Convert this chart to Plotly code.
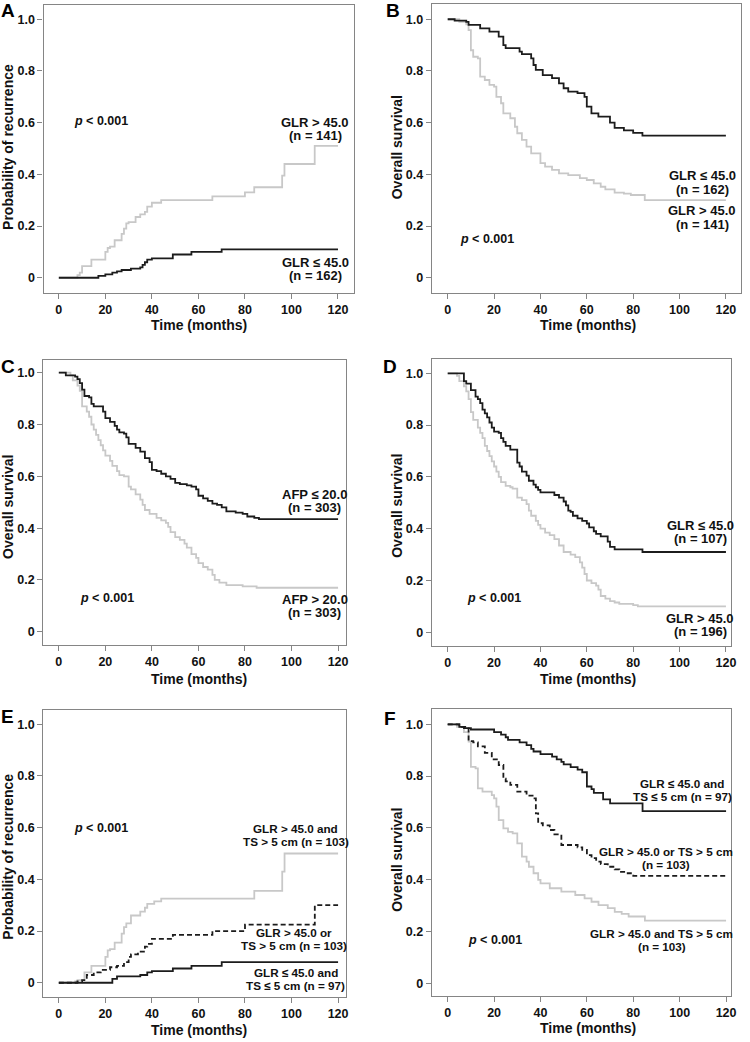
import plotly.graph_objects as go

# step curves: time (months) and probability
# A - recurrence by GLR
a_high_t = [0, 8, 9, 10, 14, 20, 21, 22, 24, 27, 28, 29, 30, 33, 35, 37, 38, 40, 44, 66, 80, 84, 96, 97, 110, 120]
a_high_v = [0, 0.01, 0.02, 0.045, 0.07, 0.1, 0.115, 0.12, 0.145, 0.17, 0.19, 0.21, 0.215, 0.235, 0.245, 0.255,
            0.275, 0.29, 0.3, 0.315, 0.33, 0.35, 0.395, 0.44, 0.51, 0.51]
a_low_t = [0, 17, 20, 23, 25, 27, 31, 35, 36, 37, 38, 40, 49, 57, 70, 120]
a_low_v = [0, 0.007, 0.013, 0.02, 0.025, 0.03, 0.035, 0.04, 0.05, 0.06, 0.07, 0.075, 0.09, 0.1, 0.11, 0.11]

# B - overall survival by GLR
b_low_t = [0, 3, 8, 9, 14, 18, 22, 24, 25, 31, 32, 36, 37, 38, 41, 45, 48, 50, 52, 56,
           59, 60, 62, 65, 70, 72, 76, 80, 84, 120]
b_low_v = [1.0, 0.995, 0.99, 0.978, 0.965, 0.952, 0.933, 0.9, 0.888, 0.875, 0.865, 0.849, 0.823, 0.804, 0.784,
           0.772, 0.752, 0.733, 0.72, 0.714, 0.7, 0.662, 0.636, 0.623, 0.6, 0.58, 0.57, 0.56, 0.55, 0.55]
b_high_t = [0, 5, 8, 9, 10, 11, 13, 14, 16, 18, 20, 21, 23, 24, 27, 29, 30, 32, 34, 36,
            40, 42, 45, 48, 52, 57, 60, 63, 66, 68, 72, 76, 79, 85, 120]
b_high_v = [1.0, 0.99, 0.98, 0.958, 0.88, 0.855, 0.849, 0.778, 0.765, 0.746, 0.739, 0.7, 0.675, 0.636, 0.617,
            0.584, 0.559, 0.533, 0.507, 0.481, 0.443, 0.43, 0.417, 0.404, 0.397, 0.385, 0.378, 0.365, 0.352,
            0.342, 0.329, 0.325, 0.32, 0.30, 0.30]

# C - overall survival by AFP
c_low_t = [0, 3, 7, 8, 9, 10, 11, 13, 14, 15, 19, 20, 22, 24, 25, 26, 28, 29, 30, 33, 35, 37, 39, 40, 42,
           44, 46, 48, 50, 52, 55, 57, 59, 60, 62, 64, 66, 68, 70, 72, 76, 79, 81, 84, 86, 120]
c_low_v = [1.0, 0.99, 0.985, 0.975, 0.96, 0.935, 0.91, 0.905, 0.88, 0.87, 0.85, 0.825, 0.81, 0.795, 0.78,
           0.77, 0.765, 0.75, 0.725, 0.71, 0.695, 0.67, 0.655, 0.625, 0.62, 0.61, 0.6, 0.59, 0.575, 0.57,
           0.565, 0.56, 0.55, 0.525, 0.515, 0.505, 0.495, 0.49, 0.48, 0.465, 0.46, 0.455, 0.445, 0.44,
           0.435, 0.435]
c_high_t = [0, 5, 6, 8, 9, 10, 12, 13, 14, 15, 16, 17, 18, 19, 20, 22, 23, 25, 26, 28, 30, 31, 33, 35,
            36, 37, 39, 42, 44, 46, 47, 48, 50, 52, 54, 55, 57, 59, 60, 62, 64, 66, 67, 69, 72, 79, 85, 120]
c_high_v = [1.0, 0.99, 0.97, 0.95, 0.93, 0.87, 0.85, 0.83, 0.8, 0.78, 0.76, 0.74, 0.72, 0.7, 0.68, 0.66,
            0.64, 0.62, 0.605, 0.6, 0.56, 0.55, 0.53, 0.51, 0.49, 0.47, 0.455, 0.44, 0.43, 0.42, 0.405,
            0.385, 0.365, 0.355, 0.34, 0.325, 0.3, 0.285, 0.265, 0.25, 0.24, 0.22, 0.2, 0.19, 0.18,
            0.175, 0.17, 0.17]

# D - overall survival by GLR (AFP > 20 subgroup)
d_low_t = [0, 7, 8, 10, 12, 13, 14, 15, 16, 17, 18, 19, 20, 22, 23, 24, 25, 27, 30, 31, 32, 34, 35,
           37, 38, 39, 40, 46, 48, 50, 51, 52, 53, 54, 56, 58, 60, 61, 63, 64, 66, 69, 70, 72, 84, 120]
d_low_v = [1.0, 0.97, 0.96, 0.935, 0.91, 0.9, 0.885, 0.86, 0.845, 0.83, 0.81, 0.79, 0.775, 0.77, 0.75,
           0.735, 0.72, 0.705, 0.655, 0.64, 0.62, 0.605, 0.585, 0.57, 0.56, 0.55, 0.54, 0.53, 0.52,
           0.505, 0.49, 0.47, 0.465, 0.45, 0.44, 0.43, 0.42, 0.405, 0.39, 0.38, 0.37, 0.35, 0.33,
           0.32, 0.31, 0.31]
d_high_t = [0, 4, 5, 7, 8, 9, 10, 11, 13, 14, 15, 16, 17, 18, 19, 20, 21, 22, 23, 25, 27, 28, 30, 32,
            34, 35, 36, 38, 39, 40, 42, 44, 46, 48, 50, 53, 55, 57, 58, 59, 60, 62, 64, 65, 66, 68, 70,
            72, 74, 80, 82, 120]
d_high_v = [1.0, 0.99, 0.97, 0.95, 0.93, 0.9, 0.85, 0.82, 0.79, 0.77, 0.75, 0.72, 0.7, 0.68, 0.66,
            0.64, 0.62, 0.6, 0.58, 0.565, 0.56, 0.555, 0.52, 0.51, 0.495, 0.47, 0.45, 0.43, 0.415, 0.4,
            0.385, 0.375, 0.36, 0.335, 0.31, 0.3, 0.29, 0.27, 0.25, 0.225, 0.2, 0.19, 0.18, 0.165,
            0.14, 0.13, 0.12, 0.115, 0.11, 0.105, 0.1, 0.1]

# E - recurrence by GLR + tumour size
e_high_t = [0, 7, 8, 11, 14, 20, 21, 22, 24, 27, 28, 29, 31, 35, 37, 38, 41, 44, 84, 96, 97, 120]
e_high_v = [0, 0.005, 0.01, 0.04, 0.065, 0.1, 0.125, 0.13, 0.155, 0.19, 0.215, 0.23, 0.26, 0.275,
            0.29, 0.305, 0.315, 0.325, 0.355, 0.43, 0.5, 0.5]
e_mid_t = [0, 8, 10, 12, 15, 18, 22, 25, 28, 30, 31, 34, 37, 38, 40, 49, 66, 80, 110, 120]
e_mid_v = [0, 0.005, 0.01, 0.03, 0.04, 0.05, 0.06, 0.065, 0.08, 0.1, 0.11, 0.12, 0.14, 0.15, 0.17,
           0.185, 0.2, 0.225, 0.3, 0.3]
e_low_t = [0, 23, 25, 35, 38, 40, 49, 57, 70, 120]
e_low_v = [0, 0.015, 0.025, 0.03, 0.04, 0.045, 0.055, 0.065, 0.08, 0.08]

# F - overall survival by GLR + tumour size
f_low_t = [0, 5, 7, 10, 20, 23, 25, 26, 31, 34, 36, 37, 40, 45, 47, 49, 50, 53, 56, 58,
           60, 62, 63, 67, 70, 84, 120]
f_low_v = [1.0, 0.99, 0.985, 0.98, 0.97, 0.96, 0.95, 0.94, 0.93, 0.92, 0.905, 0.895, 0.885, 0.875,
           0.865, 0.855, 0.845, 0.835, 0.825, 0.815, 0.76, 0.75, 0.735, 0.71, 0.695, 0.665, 0.665]
f_mid_t = [0, 5, 9, 11, 13, 16, 19, 22, 24, 25, 27, 30, 34, 37, 38, 39, 41, 44, 46, 49,
           56, 58, 60, 62, 64, 66, 69, 72, 74, 77, 80, 120]
f_mid_v = [1.0, 0.99, 0.935, 0.93, 0.915, 0.89, 0.865, 0.843, 0.79, 0.78, 0.766, 0.74, 0.725, 0.714,
           0.656, 0.618, 0.61, 0.592, 0.575, 0.534, 0.525, 0.515, 0.495, 0.483, 0.47, 0.46, 0.45,
           0.44, 0.43, 0.425, 0.415, 0.415]
f_high_t = [0, 4, 7, 9, 10, 12, 13, 15, 19, 20, 21, 22, 24, 26, 28, 30, 32, 34, 35, 37,
            39, 40, 44, 49, 55, 59, 62, 65, 69, 72, 75, 78, 85, 120]
f_high_v = [1.0, 0.99, 0.97, 0.933, 0.836, 0.83, 0.753, 0.74, 0.727, 0.714, 0.682, 0.63, 0.598, 0.585,
            0.579, 0.54, 0.489, 0.47, 0.45, 0.425, 0.399, 0.386, 0.367, 0.354, 0.341, 0.328, 0.315,
            0.302, 0.29, 0.276, 0.268, 0.258, 0.242, 0.242]

x_ticks = [0, 20, 40, 60, 80, 100, 120]
y_ticks = [0, 0.2, 0.4, 0.6, 0.8, 1.0]
y_ticktext = ["0", "0.2", "0.4", "0.6", "0.8", "1.0"]

W, H = 750, 1042
BLACK = "#1c1c1c"
GREY = "#c8c8c8"
FRAME = "#858585"
FONT = "Liberation Sans, Arial, sans-serif"


def px(x):
    return x / W


def py(y):
    return 1 - y / H


# box = (left, right, top, bottom) in pixels; lsize = font size of the curve labels
panels = [
    dict(letter="A", lpos=(8, 11), box=(44, 357, 5, 293), xr=[-6.52, 126.95], yr=[-0.059, 1.055],
         ytitle="Probability of recurrence", ytpos=(8, 147), xtpos=(201, 325), ppos=(73, 121), lsize=13,
         curves=[(a_high_t, a_high_v, GREY, "solid"), (a_low_t, a_low_v, BLACK, "solid")],
         labels=[(["GLR > 45.0", "(n = 141)"], 318, 129), (["GLR ≤ 45.0", "(n = 162)"], 318, 269)]),
    dict(letter="B", lpos=(396, 11), box=(435.3, 746.7, 4, 292.7), xr=[-6.85, 126.4], yr=[-0.058, 1.059],
         ytitle="Overall survival", ytpos=(400, 147.5), xtpos=(593, 325), ppos=(462, 239), lsize=13,
         curves=[(b_high_t, b_high_v, GREY, "solid"), (b_low_t, b_low_v, BLACK, "solid")],
         labels=[(["GLR ≤ 45.0", "(n = 162)"], 708, 182.5), (["GLR > 45.0", "(n = 141)"], 708, 217.5)]),
    dict(letter="C", lpos=(8, 366), box=(43.7, 348.3, 360, 645), xr=[-6.65, 123.2], yr=[-0.051, 1.049],
         ytitle="Overall survival", ytpos=(8, 507), xtpos=(201, 679), ppos=(79, 598), lsize=13,
         curves=[(c_high_t, c_high_v, GREY, "solid"), (c_low_t, c_low_v, BLACK, "solid")],
         labels=[(["AFP ≤ 20.0", "(n = 303)"], 317.5, 501), (["AFP > 20.0", "(n = 303)"], 317.5, 606)]),
    dict(letter="D", lpos=(393, 366), box=(435.3, 736.7, 359.3, 646), xr=[-6.85, 122.1], yr=[-0.053, 1.054],
         ytitle="Overall survival", ytpos=(400, 506), xtpos=(593, 679), ppos=(469, 598), lsize=13,
         curves=[(d_high_t, d_high_v, GREY, "solid"), (d_low_t, d_low_v, BLACK, "solid")],
         labels=[(["GLR ≤ 45.0", "(n = 107)"], 706, 532), (["GLR > 45.0", "(n = 196)"], 706, 625)]),
    dict(letter="E", lpos=(8, 716), box=(43.7, 348.3, 710, 996.7), xr=[-6.65, 123.2], yr=[-0.054, 1.055],
         ytitle="Probability of recurrence", ytpos=(8, 856.7), xtpos=(201, 1030), ppos=(73, 828), lsize=11.7,
         curves=[(e_high_t, e_high_v, GREY, "solid"), (e_mid_t, e_mid_v, BLACK, "5px,3px"),
                 (e_low_t, e_low_v, BLACK, "solid")],
         labels=[(["GLR > 45.0 and", "TS > 5 cm (n = 103)"], 298, 835),
                 (["GLR > 45.0 or", "TS > 5 cm (n = 103)"], 296, 939),
                 (["GLR ≤ 45.0 and", "TS ≤ 5 cm (n = 97)"], 298, 979)]),
    dict(letter="F", lpos=(393, 718), box=(435.3, 737.3, 709.3, 996), xr=[-6.85, 122.3], yr=[-0.049, 1.058],
         ytitle="Overall survival", ytpos=(400, 860), xtpos=(593, 1028), ppos=(470, 940), lsize=11.7,
         curves=[(f_high_t, f_high_v, GREY, "solid"), (f_mid_t, f_mid_v, BLACK, "5px,3px"),
                 (f_low_t, f_low_v, BLACK, "solid")],
         labels=[(["GLR ≤ 45.0 and", "TS ≤ 5 cm (n = 97)"], 688, 790),
                 (["GLR > 45.0 or TS > 5 cm", "(n = 103)"], 671, 858),
                 (["GLR > 45.0 and TS > 5 cm", "(n = 103)"], 667, 940)]),
]

fig = go.Figure()
annotations = []
tick_font = dict(family=FONT, size=12.5, color="#111111", weight="bold")

for i, p in enumerate(panels, start=1):
    sx = "" if i == 1 else str(i)
    left, right, top, bottom = p["box"]
    for t, v, col, dash in p["curves"]:
        fig.add_trace(go.Scatter(x=t, y=v, mode="lines", line_shape="hv",
                                 line=dict(color=col, width=1.8, dash=dash),
                                 xaxis="x" + sx, yaxis="y" + sx, hoverinfo="skip"))
    axis_common = dict(showline=True, mirror=True, linecolor=FRAME, linewidth=1.3,
                       ticks="outside", ticklen=5, tickcolor=FRAME, tickwidth=1.3,
                       showgrid=False, zeroline=False, tickfont=tick_font, fixedrange=True)
    fig.layout["xaxis" + sx] = dict(axis_common, domain=[px(left), px(right)], range=p["xr"],
                                    tickvals=x_ticks, anchor="y" + sx)
    fig.layout["yaxis" + sx] = dict(axis_common, domain=[py(bottom), py(top)], range=p["yr"],
                                    tickvals=y_ticks, ticktext=y_ticktext, anchor="x" + sx)

    # panel letter, axis titles, p-value
    annotations.append(dict(text=p["letter"], x=px(p["lpos"][0]), y=py(p["lpos"][1]),
                            font=dict(family=FONT, size=19, color="#000", weight="bold")))
    annotations.append(dict(text=p["ytitle"], x=px(p["ytpos"][0]), y=py(p["ytpos"][1]), textangle=-90,
                            font=dict(family=FONT, size=14, color="#111", weight="bold")))
    annotations.append(dict(text="Time (months)", x=px(p["xtpos"][0]), y=py(p["xtpos"][1]),
                            font=dict(family=FONT, size=14, color="#111", weight="bold")))
    annotations.append(dict(text="<i>p</i> &lt; 0.001", x=px(p["ppos"][0]), y=py(p["ppos"][1]),
                            xanchor="left", font=tick_font))
    # curve labels, one annotation per line
    label_font = dict(family=FONT, size=p["lsize"], color="#111111", weight="bold")
    for lines, cx, cy in p["labels"]:
        for k, line in enumerate(lines):
            ly = cy + (k - (len(lines) - 1) / 2) * 13.5
            annotations.append(dict(text=line, x=px(cx), y=py(ly), font=label_font))

for a in annotations:
    a.update(xref="paper", yref="paper", showarrow=False)
    a.setdefault("xanchor", "center")
    a.setdefault("yanchor", "middle")

fig.update_layout(width=W, height=H, margin=dict(l=0, r=0, t=0, b=0),
                  paper_bgcolor="white", plot_bgcolor="white", showlegend=False,
                  annotations=annotations)

# drop the page's default body margin so the figure sits at the window's corner
fig.write_html("out.html", config={"displayModeBar": False},
               post_script="document.body.style.margin='0';document.body.style.overflow='hidden';")
